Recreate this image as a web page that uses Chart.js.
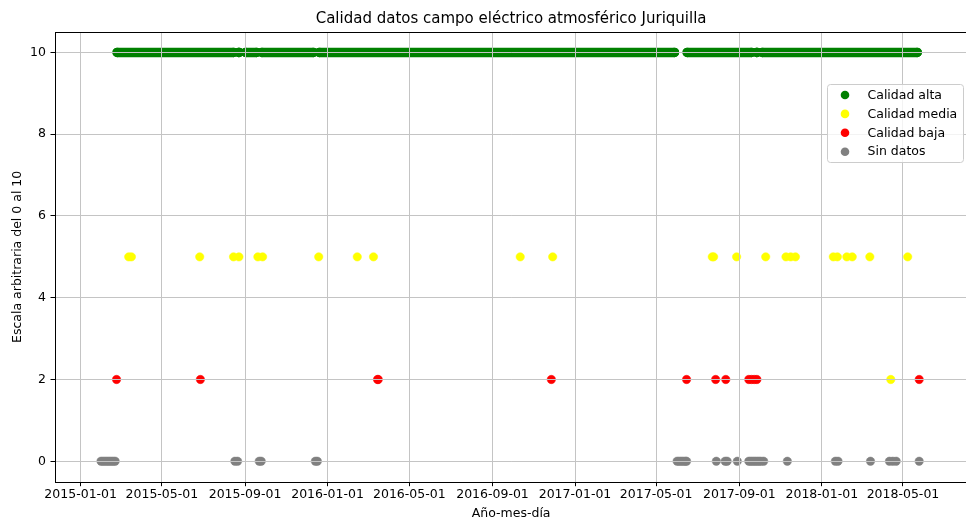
<!DOCTYPE html>
<html>
<head>
<meta charset="utf-8">
<title>Calidad datos campo eléctrico atmosférico Juriquilla</title>
<script src="https://cdn.jsdelivr.net/npm/chart.js@4.4.1/dist/chart.umd.min.js"></script>
<style>
  html, body { margin: 0; padding: 0; background: #fff; overflow: hidden; }
  #wrap { width: 972px; height: 523px; }
</style>
</head>
<body>
<div id="wrap"><canvas id="chart" width="972" height="523"></canvas></div>
<script>
// Calidad alta (10): tramos diarios continuos, inicio y fin de cada tramo
const altaInicio = ['2015-02-24', '2015-08-23', '2015-09-02', '2015-09-26', '2015-12-20', '2017-06-16', '2017-09-27', '2017-10-05'];
const altaFin = ['2015-08-15', '2015-08-23', '2015-09-18', '2015-12-11', '2017-05-28', '2017-09-19', '2017-09-27', '2018-05-22'];

// Calidad media
const mediaFechas = ['2015-03-13', '2015-03-17', '2015-06-26', '2015-08-15', '2015-08-23', '2015-09-20', '2015-09-27',
  '2015-12-19', '2016-02-14', '2016-03-09', '2016-10-12', '2016-11-29', '2017-07-23', '2017-07-25', '2017-08-28',
  '2017-10-10', '2017-11-09', '2017-11-16', '2017-11-23', '2018-01-18', '2018-01-24', '2018-02-07', '2018-02-15',
  '2018-03-13', '2018-04-13', '2018-05-08'];
const mediaValores = [5, 5, 5, 5, 5, 5, 5, 5, 5, 5, 5, 5, 5, 5, 5, 5, 5, 5, 5, 5, 5, 5, 5, 5, 2, 5];

// Calidad baja (2)
const bajaFechas = ['2015-02-23', '2015-06-27', '2016-03-15', '2016-03-16', '2016-11-27', '2017-06-15', '2017-07-28',
  '2017-08-12', '2017-09-15', '2017-09-19', '2017-09-23', '2017-09-27', '2018-05-25'];

// Sin datos (0)
const sinDatosFechas = ['2015-01-31', '2015-02-03', '2015-02-06', '2015-02-09', '2015-02-12', '2015-02-15', '2015-02-18',
  '2015-02-21', '2015-08-17', '2015-08-21', '2015-09-22', '2015-09-25', '2015-12-14', '2015-12-17', '2017-06-01',
  '2017-06-04', '2017-06-07', '2017-06-10', '2017-06-13', '2017-06-15', '2017-07-29', '2017-08-11', '2017-08-14',
  '2017-08-29', '2017-09-15', '2017-09-18', '2017-09-21', '2017-09-24', '2017-09-27', '2017-09-30', '2017-10-03',
  '2017-10-07', '2017-11-11', '2018-01-21', '2018-01-25', '2018-03-14', '2018-04-11', '2018-04-16', '2018-04-21',
  '2018-05-25'];

const xTicks = ['2015-01-01', '2015-05-01', '2015-09-01', '2016-01-01', '2016-05-01', '2016-09-01',
  '2017-01-01', '2017-05-01', '2017-09-01', '2018-01-01', '2018-05-01'];
const yTicks = [0, 2, 4, 6, 8, 10];
const xMin = '2014-11-24';
const xMax = '2018-08-04';

const puntos = (fechas, valores) => fechas.map((f, i) => ({ x: Date.parse(f), y: Array.isArray(valores) ? valores[i] : valores }));

// cada tramo: inicio, fin y un hueco para cortar la linea
const altaPuntos = [];
altaInicio.forEach((ini, i) => {
  const fin = Date.parse(altaFin[i]);
  altaPuntos.push({ x: Date.parse(ini), y: 10 }, { x: fin, y: 10 }, { x: fin, y: null });
});

// rejilla encima de los puntos, como en matplotlib
const rejilla = { z: 1, color: '#c4c4c4', lineWidth: 1, tickLength: 4.5, tickColor: '#000', tickWidth: 1 };

const leyenda = {
  id: 'leyenda',
  afterDraw(chart) {
    const ctx = chart.ctx;
    const a = chart.chartArea;
    ctx.save();
    // marco de los ejes
    ctx.strokeStyle = '#000';
    ctx.lineWidth = 1;
    ctx.strokeRect(Math.round(a.left) + 0.5, Math.round(a.top) + 0.5, Math.round(a.right - a.left), Math.round(a.bottom - a.top));
    // caja de leyenda
    const w = 136, h = 78;
    const x0 = Math.round(a.right - 4 - w), y0 = Math.round(a.top + 52);
    ctx.beginPath();
    ctx.roundRect(x0 + 0.5, y0 + 0.5, w, h, 3);
    ctx.fillStyle = 'rgba(255,255,255,0.8)';
    ctx.fill();
    ctx.strokeStyle = '#cccccc';
    ctx.stroke();
    ctx.font = '12.5px "DejaVu Sans"';
    ctx.textBaseline = 'middle';
    chart.data.datasets.forEach((ds, i) => {
      const y = y0 + 11 + i * 18.9;
      ctx.beginPath();
      ctx.arc(x0 + 18, y, 4.3, 0, Math.PI * 2);
      ctx.fillStyle = ds.pointBackgroundColor;
      ctx.fill();
      ctx.fillStyle = '#000';
      ctx.fillText(ds.label, x0 + 40.5, y + 0.5);
    });
    ctx.restore();
  }
};

Chart.defaults.font.family = '"DejaVu Sans", sans-serif';
Chart.defaults.font.size = 12.5;
Chart.defaults.color = '#000';

new Chart(document.getElementById('chart'), {
  type: 'scatter',
  data: {
    datasets: [
      {
        label: 'Calidad alta', data: altaPuntos, order: 4, showLine: true, spanGaps: false,
        borderColor: 'green', borderWidth: 9.6, borderCapStyle: 'round',
        pointBackgroundColor: 'green', pointBorderWidth: 0, pointRadius: 4.8
      },
      {
        label: 'Calidad media', data: puntos(mediaFechas, mediaValores), order: 3,
        pointBackgroundColor: 'yellow', pointBorderColor: 'yellow', pointBorderWidth: 0.5, pointRadius: 4.2
      },
      {
        label: 'Calidad baja', data: puntos(bajaFechas, 2), order: 2,
        pointBackgroundColor: 'red', pointBorderColor: 'red', pointBorderWidth: 0.5, pointRadius: 4.2
      },
      {
        label: 'Sin datos', data: puntos(sinDatosFechas, 0), order: 1,
        pointBackgroundColor: 'gray', pointBorderColor: 'gray', pointBorderWidth: 0.5, pointRadius: 4.2
      }
    ]
  },
  options: {
    responsive: false,
    devicePixelRatio: 1,
    animation: false,
    layout: { padding: { left: 0, right: 3, top: 0, bottom: 0 } },
    plugins: {
      legend: { display: false },
      tooltip: { enabled: false },
      title: {
        display: true, fullSize: false,
        text: 'Calidad datos campo eléctrico atmosférico Juriquilla',
        font: { size: 15, weight: 'normal' }, color: '#000',
        padding: { top: 10, bottom: 4 }
      }
    },
    scales: {
      x: {
        type: 'linear', min: Date.parse(xMin), max: Date.parse(xMax),
        afterBuildTicks: s => { s.ticks = xTicks.map(t => ({ value: Date.parse(t) })); },
        afterFit: s => { s.height = 41.3; },
        ticks: {
          callback: v => new Date(v).toISOString().slice(0, 10),
          autoSkip: false, maxRotation: 0, padding: 1.5
        },
        grid: rejilla,
        border: { display: false },
        title: { display: true, text: 'Año-mes-día', padding: { top: 0, bottom: 1.5 } }
      },
      y: {
        min: -0.5, max: 10.5,
        afterBuildTicks: s => { s.ticks = yTicks.map(v => ({ value: v })); },
        afterFit: s => { s.width = 55; },
        ticks: { padding: 4.5 },
        grid: rejilla,
        border: { display: false },
        title: { display: true, text: 'Escala arbitraria del 0 al 10', padding: { top: 10, bottom: 0 } }
      }
    }
  },
  plugins: [leyenda]
});
</script>
</body>
</html>
